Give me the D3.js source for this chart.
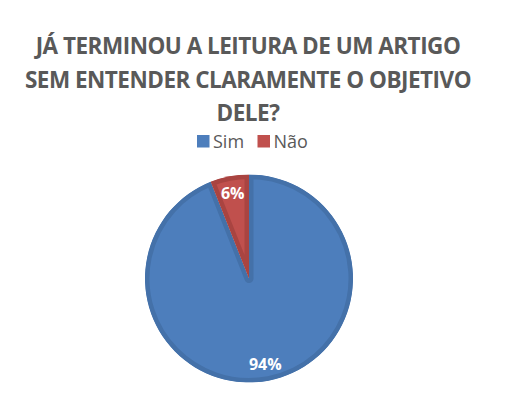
<!DOCTYPE html>
<html>
<head>
<meta charset="utf-8">
<script src="https://cdn.jsdelivr.net/npm/d3@7"></script>
<style>
  body { margin: 0; background: #fff; }
</style>
</head>
<body>
<div id="chart"></div>
<script>
const categories = ["Sim", "Não"];
const values = [94, 6];
const labels = ["94%", "6%"];
const titleLines = ["JÁ TERMINOU A LEITURA DE UM ARTIGO", "SEM ENTENDER CLARAMENTE O OBJETIVO", "DELE?"];

const width = 505, height = 408;
const cx = 249, cy = 278.5, radius = 104;
const fills = ["#4d7ebc", "#c0504d"];
const borders = ["#4471a9", "#a94441"];

const svg = d3.select("#chart").append("svg")
  .attr("width", width)
  .attr("height", height);

// title
svg.append("g").selectAll("text")
  .data(titleLines)
  .join("text")
  .attr("x", 248)
  .attr("y", (d, i) => 54 + i * 33.7)
  .attr("text-anchor", "middle")
  .attr("font-family", "Open Sans")
  .attr("font-weight", "bold")
  .attr("font-size", 22.5)
  .attr("letter-spacing", -0.5)
  .attr("fill", "#595959")
  .text(d => d);

// legend
const legend = svg.append("g");
const legendX = [197, 257.5];
categories.forEach((c, i) => {
  legend.append("rect")
    .attr("x", legendX[i]).attr("y", 135)
    .attr("width", 12.5).attr("height", 12.5)
    .attr("fill", fills[i]);
  legend.append("text")
    .attr("x", legendX[i] + 16).attr("y", 147.5)
    .attr("font-family", "Open Sans")
    .attr("font-size", 18)
    .attr("fill", "#595959")
    .text(c);
});

// pie
const pie = d3.pie().sort(null).value(d => d)(values);
const arc = d3.arc().innerRadius(0).outerRadius(radius);
const labelArc = d3.arc().innerRadius(87).outerRadius(87);

const g = svg.append("g").attr("transform", `translate(${cx},${cy})`);
const defs = svg.append("defs");

pie.forEach((p, i) => {
  defs.append("clipPath").attr("id", "clip" + i)
    .append("path").attr("d", arc(p));
  g.append("path")
    .attr("d", arc(p))
    .attr("fill", fills[i])
    .attr("stroke", borders[i])
    .attr("stroke-width", 9)
    .attr("stroke-linejoin", "round")
    .attr("clip-path", `url(#clip${i})`);
});

g.selectAll("text.lbl")
  .data(pie)
  .join("text")
  .attr("class", "lbl")
  .attr("transform", d => `translate(${labelArc.centroid(d)})`)
  .attr("dy", "0.35em")
  .attr("text-anchor", "middle")
  .attr("font-family", "Open Sans")
  .attr("font-weight", "bold")
  .attr("font-size", 16)
  .attr("fill", "#fff")
  .text((d, i) => labels[i]);
</script>
</body>
</html>
